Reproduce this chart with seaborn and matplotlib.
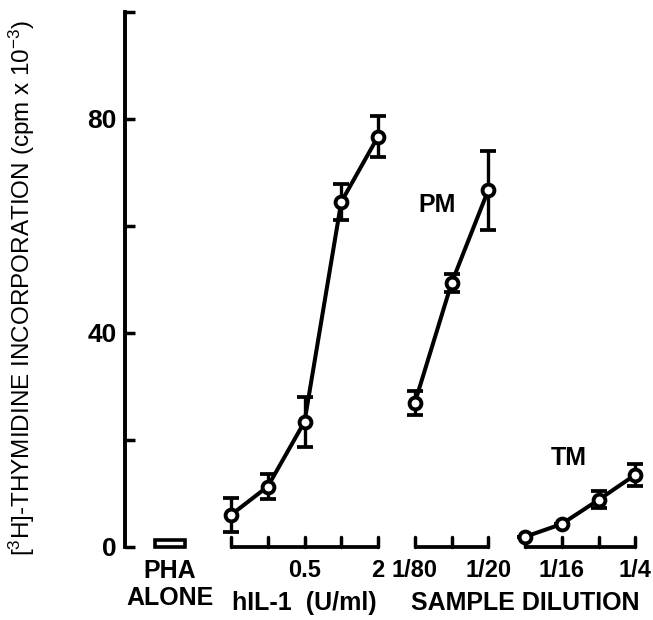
import numpy as np
import pandas as pd
import matplotlib
matplotlib.use("Agg")
import matplotlib.pyplot as plt
import seaborn as sns

# ---- data ----
pha_value = 1.3
hil_conc = [0.125, 0.25, 0.5, 1, 2]
hil_mean = [6.0, 11.3, 23.4, 64.5, 76.7]
hil_err = [3.2, 2.3, 4.7, 3.3, 3.8]
pm_dil = [1 / 80, 1 / 40, 1 / 20]
pm_mean = [26.9, 49.3, 66.7]
pm_err = [2.2, 1.7, 7.4]
tm_dil = [1 / 32, 1 / 16, 1 / 8, 1 / 4]
tm_mean = [1.9, 4.3, 8.8, 13.5]
tm_err = [0.0, 0.0, 1.6, 2.1]

hil_ticklabels = ["", "", "0.5", "", "2"]
pm_ticklabels = ["1/80", "", "1/20"]
tm_ticklabels = ["", "1/16", "", "1/4"]
y_ticks = [0, 20, 40, 60, 80, 100]
y_ticklabels = ["0", "", "40", "", "80", ""]

# positions on a broken log2 axis (one unit per doubling)
hil_pos = list(np.log2(np.array(hil_conc) / hil_conc[0]))
pm_pos = list(5 + np.log2(np.array(pm_dil) / pm_dil[0]))
tm_pos = list(8 + np.log2(np.array(tm_dil) / tm_dil[0]))
pha_pos = -1.66

df = pd.DataFrame({
    "pos": hil_pos + pm_pos + tm_pos,
    "value": hil_mean + pm_mean + tm_mean,
    "err": hil_err + pm_err + tm_err,
    "group": ["hIL-1"] * len(hil_pos) + ["PM"] * len(pm_pos) + ["TM"] * len(tm_pos),
})

sns.set_style("ticks")
plt.rcParams["font.family"] = ["Liberation Sans", "DejaVu Sans"]
plt.rcParams["mathtext.fontset"] = "custom"
plt.rcParams["mathtext.rm"] = "Liberation Sans"
plt.rcParams["mathtext.it"] = "Liberation Sans"
for key in ("text.color", "axes.labelcolor", "axes.edgecolor",
            "xtick.color", "ytick.color"):
    plt.rcParams[key] = "black"

fig = plt.figure(figsize=(6.53, 6.2), dpi=100)
ax_left_px, zero_px, top_px = 125, 547, 12
unit_px = 36.75
x0_px = 231
ax = fig.add_axes([ax_left_px / 653, (620 - zero_px) / 620,
                   (653 - ax_left_px) / 653, (zero_px - top_px) / 620])
ax.set_xlim((ax_left_px - x0_px) / unit_px, (653 - x0_px) / unit_px)
ax.set_ylim(0, 100)

lw = 2.9
# error bars
ax.errorbar(df["pos"], df["value"], yerr=df["err"], fmt="none", ecolor="black",
            elinewidth=2.4, capsize=5.5, capthick=2.7, zorder=2)
# lines + markers
sns.lineplot(data=df, x="pos", y="value", units="group", estimator=None,
             color="black", linewidth=lw, marker="o", markersize=8.5,
             markerfacecolor="white", markeredgecolor="black",
             markeredgewidth=2.8, ax=ax, zorder=3, legend=False)

# PHA alone bar
ax.bar([pha_pos], [pha_value], width=0.82, fill=False, edgecolor="black",
       linewidth=2.6, clip_on=False)

# broken x-axis segments
tick_h = 1.85
for pos in (hil_pos, pm_pos, tm_pos):
    ax.plot([pos[0], pos[-1]], [0, 0], color="black", linewidth=2.7,
            solid_capstyle="butt", clip_on=False)
    for p in pos:
        ax.plot([p, p], [0, tick_h], color="black", linewidth=2.5,
                clip_on=False)

fs = 18
fs_tick = 17
ty = -4.3
for pos, labs in ((hil_pos, hil_ticklabels), (pm_pos, pm_ticklabels),
                  (tm_pos, tm_ticklabels)):
    for p, t in zip(pos, labs):
        if t:
            ax.text(p, ty, t, ha="center", va="center", fontsize=fs_tick,
                    fontweight="bold", clip_on=False)

ax.text(pha_pos, -4.5, "PHA", ha="center", va="center", fontsize=fs,
        fontweight="bold")
ax.text(pha_pos, -9.5, "ALONE", ha="center", va="center", fontsize=fs,
        fontweight="bold")
ax.text(hil_pos[2], -10.5, "hIL-1  (U/ml)", ha="center", va="center",
        fontsize=fs, fontweight="bold")
ax.text(tm_pos[0], -10.5, "SAMPLE DILUTION", ha="center", va="center",
        fontsize=fs, fontweight="bold")
ax.text(5.6, 64.0, "PM", ha="center", va="center", fontsize=fs,
        fontweight="bold")
ax.text(9.2, 16.6, "TM", ha="center", va="center", fontsize=fs,
        fontweight="bold")

# y axis
for s in ("top", "right", "bottom"):
    ax.spines[s].set_visible(False)
ax.spines["left"].set_linewidth(2.8)
ax.spines["left"].set_bounds(0, 100)
ax.set_yticks(y_ticks)
ax.set_yticklabels(y_ticklabels, fontsize=19, fontweight="bold")
ax.tick_params(axis="y", direction="in", length=7, width=2.5, pad=6)
ax.set_xticks([])
ax.set_xlabel("")
ax.set_ylabel(r"[$^{3}$H]-THYMIDINE INCORPORATION (cpm x 10$^{-3}$)",
              fontsize=17.5)
ax.yaxis.set_label_coords(-0.167, 0.484)

fig.savefig("out.png", dpi=100)
